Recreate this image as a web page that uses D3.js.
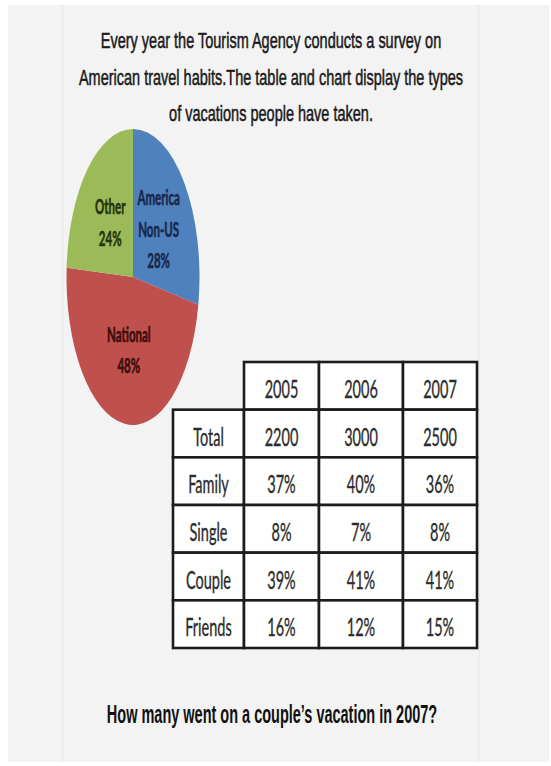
<!DOCTYPE html>
<html>
<head>
<meta charset="utf-8">
<script src="https://cdn.jsdelivr.net/npm/d3@7"></script>
<style>
  html, body { margin: 0; padding: 0; background: #fff; }
  svg { display: block; }
</style>
</head>
<body>
<div id="chart"></div>
<script>
// data
const titleLines = [
	"Every year the Tourism Agency conducts a survey on",
	"American travel habits.The table and chart display the types",
	"of vacations people have taken."
];
const question = "How many went on a couple\u2019s vacation in 2007?";

const slices = ["America Non-US", "National", "Other"];
const shares = [28, 48, 24];
const sliceColors = ["#4f81bd", "#c0504d", "#9bbb59"];
const labelColors = ["#17284a", "#3b0d0c", "#27330f"];

const years = ["2005", "2006", "2007"];
const rowNames = ["Total", "Family", "Single", "Couple", "Friends"];
const totals = [2200, 3000, 2500];
const family = [37, 40, 36];
const single = [8, 7, 8];
const couple = [39, 41, 41];
const friends = [16, 12, 15];

const width = 551,
	height = 766;

const svg = d3
	.select("#chart")
	.append("svg")
	.attr("width", width)
	.attr("height", height);

// page background
svg.append("rect")
	.attr("x", 8)
	.attr("y", 5)
	.attr("width", 541)
	.attr("height", 757)
	.attr("fill", "#f3f3f3");
[63, 479].forEach((x) => {
	svg.append("line")
		.attr("x1", x)
		.attr("x2", x)
		.attr("y1", 5)
		.attr("y2", 762)
		.attr("stroke", "#ebebeb")
		.attr("stroke-width", 1.5);
});

// text drawn tall and narrow like the stretched picture
const stretchText = (parent, x, y, sy, txt) => {
	return parent
		.append("g")
		.attr("transform", "translate(" + x + "," + y + ") scale(1," + sy + ")")
		.append("text")
		.attr("text-anchor", "middle")
		.text(txt);
};

// title
titleLines.forEach((line, i) => {
	stretchText(svg, 271, 48 + i * 36.7, 1.54, line)
		.attr("fill", "#1a1a1a")
		.attr("stroke", "#1a1a1a")
		.attr("stroke-width", 0.35)
		.style("font", "14.5px 'Liberation Sans', Arial, sans-serif");
});

// pie (circle squeezed into an ellipse)
const pieCx = 133,
	pieCy = 277,
	R = 100,
	sx = 0.665,
	sy = 1.48;

const pieData = d3.pie().sort(null).value((d) => d)(shares);
const arc = d3.arc().innerRadius(0).outerRadius(R);

svg.append("g")
	.attr("transform", "translate(" + pieCx + "," + pieCy + ") scale(" + sx + "," + sy + ")")
	.selectAll("path")
	.data(pieData)
	.enter()
	.append("path")
	.attr("d", arc)
	.attr("fill", (d, i) => sliceColors[i]);

pieData.forEach((d, i) => {
	const c = arc.centroid(d);
	const lines = slices[i].split(" ").concat([shares[i] + "%"]);
	const lx = pieCx + c[0] * sx;
	const ly = pieCy + c[1] * sy;
	const step = 31.5;
	lines.forEach((t, j) => {
		const y = ly + (j - (lines.length - 1) / 2) * step + 7;
		stretchText(svg, lx, y, 1.85, t)
			.attr("fill", labelColors[i])
			.attr("stroke", labelColors[i])
			.attr("stroke-width", 0.3)
			.style("font", "bold 11.5px Lato, 'Open Sans', sans-serif");
	});
});

// table
const colEdges = [173, 244, 319, 403, 477];
const cols = ["label"].concat(years);
const colX = d3.scaleOrdinal().domain(cols).range(colEdges.slice(0, 4));
const colW = (c) => colEdges[cols.indexOf(c) + 1] - colEdges[cols.indexOf(c)];
const rowY = d3
	.scaleBand()
	.domain(["head"].concat(rowNames))
	.range([362, 648]);

const pct = (arr) => arr.map((v) => v + "%");
const rowValues = {
	Total: totals.map(String),
	Family: pct(family),
	Single: pct(single),
	Couple: pct(couple),
	Friends: pct(friends)
};

const cells = [];
years.forEach((yr) => cells.push({ row: "head", col: yr, text: yr }));
rowNames.forEach((r) => {
	cells.push({ row: r, col: "label", text: r });
	years.forEach((yr, j) => cells.push({ row: r, col: yr, text: rowValues[r][j] }));
});

const table = svg.append("g");
table
	.selectAll("rect")
	.data(cells)
	.enter()
	.append("rect")
	.attr("x", (d) => colX(d.col))
	.attr("y", (d) => rowY(d.row))
	.attr("width", (d) => colW(d.col))
	.attr("height", rowY.bandwidth())
	.attr("fill", "#fff")
	.attr("stroke", "#1c1c1c")
	.attr("stroke-width", 2.6);

cells.forEach((d) => {
	const x = colX(d.col) + colW(d.col) / 2;
	const y = rowY(d.row) + rowY.bandwidth() / 2 + 12;
	stretchText(table, x, y, 1.78, d.text)
		.attr("fill", "#2b2b2b")
		.attr("stroke", "#2b2b2b")
		.attr("stroke-width", 0.2)
		.style("font", "14.5px Lato, 'Open Sans', sans-serif");
});

// question
stretchText(svg, 272, 723, 1.73, question)
	.attr("fill", "#111")
	.style("font", "bold 14.5px 'Liberation Sans', Arial, sans-serif");
</script>
</body>
</html>
